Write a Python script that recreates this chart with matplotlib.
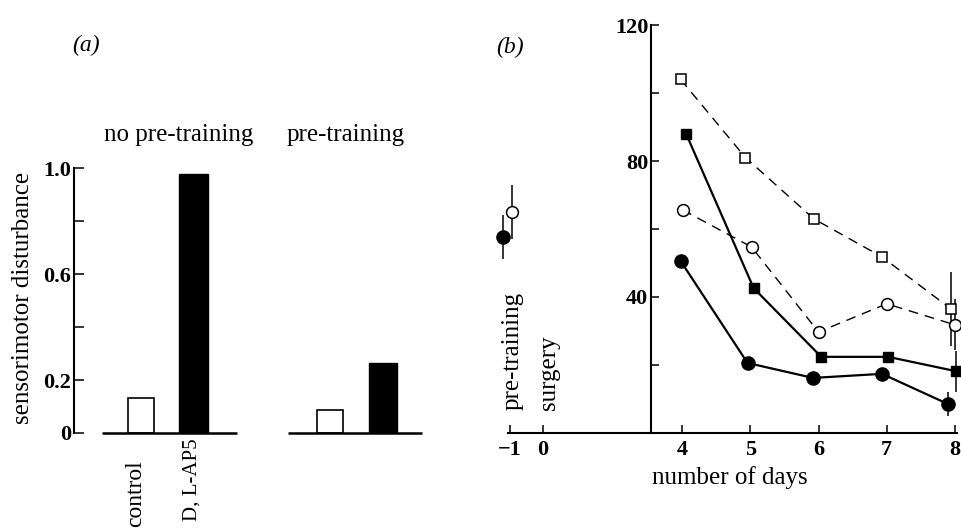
import matplotlib
matplotlib.use("Agg")
import matplotlib.pyplot as plt
import numpy as np

plt.rcParams['font.family'] = ['Liberation Serif', 'DejaVu Serif']

# ---- data, panel (a)
bar_labels = ["control", "D, L-AP5"]
group_labels = ["no pre-training", "pre-training"]
no_pre = [0.132, 0.977]
pre = [0.087, 0.264]

# ---- data, panel (b)
day_ticks = [-1, 0, 4, 5, 6, 7, 8]
open_sq_days = [3.96, 4.93, 5.93, 6.93, 7.94]
open_sq = [104, 81, 63, 51.8, 36.5]
open_sq_err = [0, 0, 0, 0, 11]
filled_sq_days = [4.06, 5.05, 6.04, 7.02, 8.01]
filled_sq = [88, 42.6, 22.4, 22.4, 18.2]
filled_sq_err = [0, 0, 0, 0, 6]
open_circ_days = [4.01, 5.02, 6.0, 7.0, 8.0]
open_circ = [65.6, 54.7, 29.7, 38, 31.8]
open_circ_err = [0, 0, 0, 0, 7.5]
filled_circ_days = [3.96, 4.96, 5.92, 6.93, 7.9]
filled_circ = [50.6, 20.6, 16.2, 17.4, 8.5]
filled_circ_err = [0, 0, 0, 0, 3.5]
pre_filled = (-1.21, 57.6, 6.5)
pre_open = (-0.94, 65, 8)

W, H = 961, 532
fig = plt.figure(figsize=(W / 100, H / 100), dpi=100)
TXT = 18
NUM = 16

#Panel (a)
ax = fig.add_axes([74 / W, 99 / H, 348 / W, 265 / H])
pos = [0, 1]
pos2 = [3.6, 4.6]
ax.bar(pos[0], no_pre[0], width=0.51, color="white", edgecolor="black", linewidth=1.2)
ax.bar(pos[1], no_pre[1], width=0.55, color="black", edgecolor="black")
ax.bar(pos2[0], pre[0], width=0.5, color="white", edgecolor="black", linewidth=1.2)
ax.bar(pos2[1], pre[1], width=0.53, color="black", edgecolor="black")
ax.plot([-0.74, 1.83], [0, 0], color="black", lw=1.8, clip_on=False, solid_capstyle="butt")
ax.plot([2.8, 5.35], [0, 0], color="black", lw=1.8, clip_on=False, solid_capstyle="butt")
ax.set_xlim(-1.276, 5.35)
ax.set_ylim(0, 1.0)
for s in ["top", "right", "bottom"]:
    ax.spines[s].set_visible(False)
ax.spines["left"].set_linewidth(1.5)
ax.set_xticks([])
ax.set_yticks([0, 0.2, 0.4, 0.6, 0.8, 1.0], labels=["0", "0.2", "", "0.6", "", "1.0"])
ax.tick_params(axis="y", direction="in", length=7, width=1.1, pad=2, labelsize=NUM)
for t in ax.get_yticklabels():
    t.set_fontweight("bold")
ax.text(0.72, 1.125, group_labels[0], ha="center", va="center", fontsize=TXT)
ax.text(3.89, 1.125, group_labels[1], ha="center", va="center", fontsize=TXT)
ax.text(-0.11, -0.102, bar_labels[0], rotation=90, ha="center", va="top", fontsize=17, clip_on=False)
ax.text(0.97, -0.02, bar_labels[1], rotation=90, ha="center", va="top", fontsize=15, clip_on=False)
fig.text(23 / W, 1 - 298 / H, "sensorimotor disturbance", rotation=90, ha="center", va="center", fontsize=TXT)
fig.text(86 / W, 1 - 45 / H, "(a)", ha="center", va="center", fontsize=17, style="italic")

#Panel (b) - broken day axis
knot_x = [-1, 0, 4, 8]
knot_u = [0, 33, 172, 445]

def piecewise(v, xp, fp):
    v = np.asarray(v, dtype=float)
    out = np.interp(v, xp, fp)
    out = np.where(v < xp[0], fp[0] + (v - xp[0]) * (fp[1] - fp[0]) / (xp[1] - xp[0]), out)
    out = np.where(v > xp[-1], fp[-1] + (v - xp[-1]) * (fp[-1] - fp[-2]) / (xp[-1] - xp[-2]), out)
    return out

def fwd(v):
    return piecewise(v, knot_x, knot_u)

def inv(u):
    return piecewise(u, knot_u, knot_x)

left_px = 510 - 0.4 * 33
right_px = 955 + 0.05 * 68.25
bx = fig.add_axes([left_px / W, 99 / H, (right_px - left_px) / W, 408 / H])
bx.set_xscale("function", functions=(fwd, inv))
bx.set_xlim(-1.4, 8.05)
bx.set_ylim(0, 120)

dash = (0, (7, 5))
bx.errorbar(open_sq_days, open_sq, yerr=open_sq_err, color="black", lw=1.0, ls=dash,
            marker="s", ms=7, mfc="white", mec="black", mew=1.1, ecolor="black", elinewidth=1.1, capsize=0, clip_on=False)
bx.errorbar(open_circ_days, open_circ, yerr=open_circ_err, color="black", lw=1.0, ls=dash,
            marker="o", ms=8.5, mfc="white", mec="black", mew=1.1, ecolor="black", elinewidth=1.1, capsize=0, clip_on=False)
bx.errorbar(filled_sq_days, filled_sq, yerr=filled_sq_err, color="black", lw=1.6,
            marker="s", ms=7, mfc="black", mec="black", ecolor="black", elinewidth=1.1, capsize=0, clip_on=False)
bx.errorbar(filled_circ_days, filled_circ, yerr=filled_circ_err, color="black", lw=1.6,
            marker="o", ms=9.5, mfc="black", mec="black", ecolor="black", elinewidth=1.1, capsize=0, clip_on=False)
bx.errorbar([pre_filled[0]], [pre_filled[1]], yerr=[pre_filled[2]], color="black",
            marker="o", ms=9.5, mfc="black", mec="black", ecolor="black", elinewidth=1.1, capsize=0, clip_on=False)
bx.errorbar([pre_open[0]], [pre_open[1]], yerr=[pre_open[2]], color="black",
            marker="o", ms=8.5, mfc="white", mec="black", mew=1.1, ecolor="black", elinewidth=1.1, capsize=0, clip_on=False)

for s in ["top", "right"]:
    bx.spines[s].set_visible(False)
bx.spines["left"].set_position(("data", inv(141.0)))
bx.spines["left"].set_bounds(0, 120)
bx.spines["bottom"].set_bounds(-1.05, 8.03)
bx.spines["left"].set_linewidth(1.5)
bx.spines["bottom"].set_linewidth(1.5)
bx.set_xticks(day_ticks, labels=["\u22121" if d < 0 else str(d) for d in day_ticks])
bx.set_yticks([20, 40, 60, 80, 100, 120], labels=["", "40", "", "80", "", "120"])
bx.tick_params(axis="both", direction="in", length=6, width=1.1, labelsize=NUM)
bx.tick_params(axis="y", pad=2)
bx.tick_params(axis="x", pad=5)
for t in bx.get_xticklabels() + bx.get_yticklabels():
    t.set_fontweight("bold")
bx.text(-0.91, 6.8, "pre-training", rotation=90, ha="center", va="bottom", fontsize=TXT)
bx.text(0.17, 6.8, "surgery", rotation=90, ha="center", va="bottom", fontsize=TXT)
fig.text(730 / W, 1 - 478 / H, "number of days", ha="center", va="center", fontsize=TXT)
fig.text(510 / W, 1 - 47 / H, "(b)", ha="center", va="center", fontsize=17, style="italic")

plt.savefig("out.png", dpi=100)
